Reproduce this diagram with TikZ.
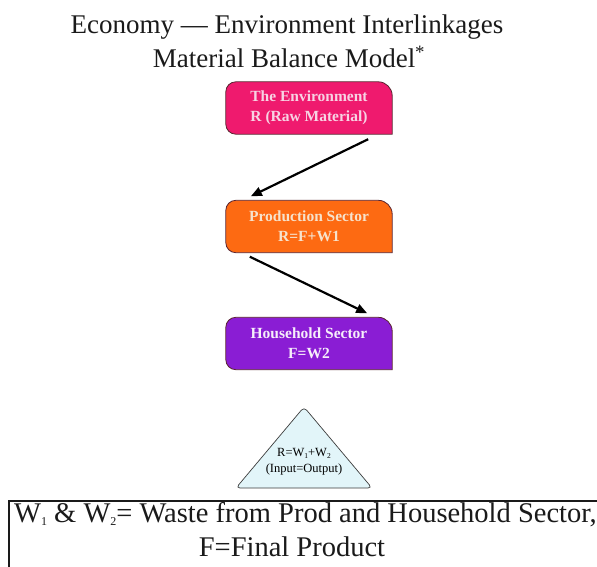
\documentclass[tikz,border=0pt]{standalone}
\usepackage{fontspec}
\setmainfont{Liberation Serif}
\usetikzlibrary{arrows.meta,backgrounds}

\definecolor{envfill}{HTML}{EF1A6E}
\definecolor{prodfill}{HTML}{FD6A12}
\definecolor{housefill}{HTML}{8A1DD4}
\definecolor{envtext}{HTML}{F7D3E3}
\definecolor{prodtext}{HTML}{F6E2CC}
\definecolor{housetext}{HTML}{F6EEFA}
\definecolor{boxedge}{HTML}{5A2430}
\definecolor{trifill}{HTML}{E2F5F9}
\definecolor{ink}{HTML}{1A1A1A}

% small lowered index digits
\newcommand\idxbig[1]{\raisebox{-3pt}{\fontsize{12}{12}\selectfont #1}}
\newcommand\idxsmall[1]{\raisebox{-1.5pt}{\fontsize{7.5}{7.5}\selectfont #1}}

\tikzset{
  heading/.style={font=\fontsize{27}{33}\selectfont, text=ink, anchor=base, inner sep=0pt},
  sector/.style={minimum width=166pt, minimum height=52pt, inner sep=0pt, align=center,
                 font=\fontsize{15.5}{20}\selectfont\bfseries},
  sectoredge/.style={line width=0.8pt, draw=boxedge},
  flow/.style={line width=2.2pt, draw=black, -{Triangle[length=11pt,width=9pt]}},
  balancetext/.style={align=center, inner sep=0pt, font=\fontsize{12.5}{16}\selectfont},
  legendtext/.style={font=\fontsize{28.5}{33}\selectfont, inner sep=0pt, text=ink},
}

% sector box: rounded on the left and top right, square bottom right
\newcommand\sectorshape[2]{%
  \begin{scope}[on background layer]
  \draw[sectoredge, fill=#2] (#1.south east) [rounded corners=10pt] -- (#1.south west)
    -- (#1.north west) [rounded corners=14pt] -- (#1.north east) [sharp corners] -- cycle;
  \end{scope}}

\begin{document}
\begin{tikzpicture}[x=1pt, y=-1pt]
  \useasboundingbox (0,0) rectangle (597,567);

  % headings
  \node[heading] (title1) at (287,34) {Economy — Environment Interlinkages};
  \node[heading] (title2) at (289,68) {Material Balance Model\textsuperscript{*}};

  % sectors
  \node[sector, text=envtext] (env) at (309,108) {The Environment\\R (Raw Material)};
  \sectorshape{env}{envfill}

  \node[sector, text=prodtext] (prod) at (309,226.5) {Production Sector\\R=F+W1};
  \sectorshape{prod}{prodfill}

  \node[sector, text=housetext] (house) at (309,343.5) {Household Sector\\F=W2};
  \sectorshape{house}{housefill}

  % material flows
  \draw[flow] ([xshift=-24pt,yshift=-5pt]env.south east) -- ([xshift=25pt,yshift=4pt]prod.north west);
  \draw[flow] ([xshift=24pt,yshift=-4pt]prod.south west) -- ([xshift=-25pt,yshift=4pt]house.north east);

  % balance triangle
  \node[balancetext] (balance) at (304,462)
    {R=W\idxsmall{1}+W\idxsmall{2}\\(Input=Output)};
  \begin{scope}[on background layer]
    \path[draw=ink!85, line width=0.7pt, fill=trifill, rounded corners=4pt]
      ([yshift=55pt]balance.center) -- ([xshift=-68pt,yshift=-26pt]balance.center)
      -- ([xshift=68pt,yshift=-26pt]balance.center) -- cycle;
  \end{scope}

  % legend
  \node[legendtext, anchor=base west] (legend1) at (14,522)
    {W\idxbig{1} \& W\idxbig{2}= Waste from Prod and Household Sector,};
  \node[legendtext, anchor=base] (legend2) at (292,556) {F=Final Product};
  \draw[line width=1.3pt, draw=ink] (9,580) |- (610,501);
\end{tikzpicture}
\end{document}
